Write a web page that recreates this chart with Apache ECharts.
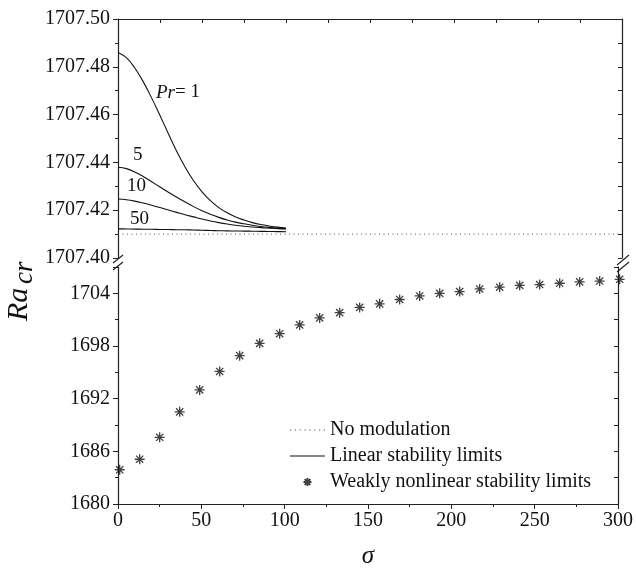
<!DOCTYPE html>
<html>
<head>
<meta charset="utf-8">
<script src="https://cdn.jsdelivr.net/npm/echarts@6/dist/echarts.min.js"></script>
<style>html,body{margin:0;padding:0;background:#fff}#c{width:636px;height:570px}</style>
</head>
<body>
<div id="c"></div>
<script>
// ---- data ----
var sigmaLin = [0,5,10,15,20,25,30,35,40,45,50,55,60,65,70,75,80,85,90,95,100];
var raPr1  = [1707.486,1707.4838,1707.4795,1707.4738,1707.467,1707.4596,1707.452,1707.4446,1707.438,1707.4323,1707.4277,1707.424,1707.4211,1707.4189,1707.4172,1707.4159,1707.4148,1707.414,1707.4134,1707.4129,1707.4125];
var raPr5  = [1707.438,1707.4374,1707.436,1707.4341,1707.4319,1707.4297,1707.4275,1707.4254,1707.4234,1707.4215,1707.4198,1707.4183,1707.417,1707.4159,1707.415,1707.4143,1707.4137,1707.4132,1707.4128,1707.4125,1707.4123];
var raPr10 = [1707.4247,1707.4244,1707.4238,1707.423,1707.4221,1707.4211,1707.4201,1707.4191,1707.4181,1707.4172,1707.4163,1707.4155,1707.4148,1707.4142,1707.4137,1707.4133,1707.413,1707.4127,1707.4125,1707.4123,1707.4122];
var raPr50 = [1707.4122,1707.41215,1707.4121,1707.41205,1707.412,1707.41195,1707.4119,1707.41185,1707.4118,1707.4117,1707.4116,1707.4115,1707.4114,1707.41135,1707.4113,1707.41125,1707.4112,1707.41115,1707.4111,1707.41105,1707.411];
var noModSigma = [0,300];
var noModRa = [1707.41,1707.41];
var sigmaNL = [1,13,25,37,49,61,73,85,97,109,121,133,145,157,169,181,193,205,217,229,241,253,265,277,289,301];
var raNL = [1683.9,1685.1,1687.6,1690.5,1693.0,1695.1,1696.9,1698.3,1699.4,1700.4,1701.2,1701.8,1702.4,1702.8,1703.3,1703.7,1704.0,1704.2,1704.5,1704.7,1704.9,1705.0,1705.15,1705.3,1705.4,1705.6];
var xTicks = [0,50,100,150,200,250,300];
var yTicksUpper = ['1707.40','1707.42','1707.44','1707.46','1707.48','1707.50'];
var yTicksLower = [1680,1686,1692,1698,1704];

function zip(a,b){return a.map(function(v,i){return [v,b[i]];});}

var FONT = 'Liberation Serif';
var AX = '#222';
var chart = echarts.init(document.getElementById('c'), null, {renderer:'canvas'});
var star = 'path://M0,-5L0,5M-5,0L5,0M-3.6,-3.6L3.6,3.6M-3.6,3.6L3.6,-3.6';
var dots = 'path://';
for (var k = 0; k < 8; k++) { var x0 = k*4.6; dots += 'M'+x0+',0L'+(x0+1.1)+',0L'+(x0+1.1)+',1.1L'+x0+',1.1Z'; }
var solid = 'path://M0,0L35,0L35,1.1L0,1.1Z';

var lineCommon = {type:'line', xAxisIndex:0, yAxisIndex:0, symbol:'none', smooth:0.4,
  lineStyle:{color:'#111', width:1.1}, itemStyle:{color:'#111'}, name:'Linear stability limits', silent:true};

var option = {
  animation:false,
  backgroundColor:'#fff',
  grid:[
    {left:118, top:19, width:504, height:239},
    {left:118, top:267, width:504, height:241}
  ],
  xAxis:[
    {gridIndex:0, type:'value', min:0, max:300, interval:50, position:'bottom',
     axisLine:{show:false}, axisTick:{show:false}, axisLabel:{show:false}, splitLine:{show:false}},
    {gridIndex:0, type:'value', min:0, max:300, interval:50, position:'top',
     axisLine:{show:true, onZero:false, lineStyle:{color:AX, width:1.2}},
     axisTick:{show:true, inside:true, length:4, lineStyle:{color:AX}},
     minorTick:{show:true, splitNumber:2, length:4, lineStyle:{color:AX}},
     axisLabel:{show:false}, splitLine:{show:false}},
    {gridIndex:1, type:'value', min:0, max:300, interval:50, position:'bottom',
     axisLine:{show:true, onZero:false, lineStyle:{color:AX, width:1.2}},
     axisTick:{show:true, inside:false, length:5, lineStyle:{color:AX}},
     minorTick:{show:true, splitNumber:2, length:3, lineStyle:{color:AX}},
     axisLabel:{show:true, margin:7, fontFamily:FONT, fontSize:20, color:'#111',
       formatter:function(v){return xTicks.indexOf(v)>=0 ? String(v) : '';}},
     splitLine:{show:false},
     name:'σ', nameLocation:'middle', nameGap:40,
     nameTextStyle:{fontFamily:FONT, fontStyle:'italic', fontSize:25, color:'#111'}}
  ],
  yAxis:[
    {gridIndex:0, type:'value', min:1707.40, max:1707.50, interval:0.02, position:'left',
     axisLine:{show:true, onZero:false, lineStyle:{color:AX, width:1.2}},
     axisTick:{show:true, inside:false, length:5, lineStyle:{color:AX}},
     minorTick:{show:true, splitNumber:2, length:3, lineStyle:{color:AX}},
     axisLabel:{show:true, margin:8, fontFamily:FONT, fontSize:20, color:'#111',
       formatter:function(v){var s=v.toFixed(2); return yTicksUpper.indexOf(s)>=0 ? s : '';}},
     splitLine:{show:false}},
    {gridIndex:0, type:'value', min:1707.40, max:1707.50, interval:0.02, position:'right',
     axisLine:{show:true, onZero:false, lineStyle:{color:AX, width:1.2}},
     axisTick:{show:true, inside:true, length:4, lineStyle:{color:AX}},
     minorTick:{show:true, splitNumber:2, length:4, lineStyle:{color:AX}},
     axisLabel:{show:false}, splitLine:{show:false}},
    {gridIndex:1, type:'value', min:1680, max:1707, interval:6, position:'left',
     axisLine:{show:true, onZero:false, lineStyle:{color:AX, width:1.2}},
     axisTick:{show:true, inside:false, length:5, lineStyle:{color:AX}},
     minorTick:{show:true, splitNumber:2, length:3, lineStyle:{color:AX}},
     axisLabel:{show:true, margin:8, fontFamily:FONT, fontSize:20, color:'#111', showMaxLabel:false,
       formatter:function(v){return yTicksLower.indexOf(v)>=0 ? String(v) : '';}},
     splitLine:{show:false}},
    {gridIndex:1, type:'value', min:1680, max:1707, interval:6, position:'right',
     axisLine:{show:true, onZero:false, lineStyle:{color:AX, width:1.2}},
     axisTick:{show:true, inside:true, length:4, lineStyle:{color:AX}},
     minorTick:{show:true, splitNumber:2, length:4, lineStyle:{color:AX}},
     axisLabel:{show:false}, splitLine:{show:false}}
  ],
  legend:{
    orient:'vertical', left:285, top:415, itemWidth:35, itemHeight:8, itemGap:6,
    textStyle:{fontFamily:FONT, fontSize:20, color:'#111'},
    selectedMode:false,
    data:[
      {name:'No modulation', icon:dots},
      {name:'Linear stability limits', icon:solid},
      {name:'Weakly nonlinear stability limits', icon:star}
    ]
  },
  series:[
    {type:'line', name:'No modulation', xAxisIndex:0, yAxisIndex:0, symbol:'none',
     data:zip(noModSigma,noModRa), lineStyle:{color:'#555', width:1, type:[1,3.5]}, itemStyle:{color:'#555'}, silent:true},
    Object.assign({}, lineCommon, {data:zip(sigmaLin,raPr1)}),
    Object.assign({}, lineCommon, {data:zip(sigmaLin,raPr5)}),
    Object.assign({}, lineCommon, {data:zip(sigmaLin,raPr10)}),
    Object.assign({}, lineCommon, {data:zip(sigmaLin,raPr50)}),
    {type:'scatter', name:'Weakly nonlinear stability limits', xAxisIndex:2, yAxisIndex:2,
     symbol:star, symbolSize:10, clip:false, silent:true,
     itemStyle:{color:'#111', borderColor:'#111', borderWidth:1.3},
     data:zip(sigmaNL,raNL)}
  ],
  graphic:[
    {type:'text', left:156, top:83, style:{text:'{i|Pr}= 1', font:'19px '+FONT, fill:'#111',
      rich:{i:{fontStyle:'italic', fontFamily:FONT, fontSize:19, fill:'#111'}}}},
    {type:'text', left:133, top:146, style:{text:'5', font:'19px '+FONT, fill:'#111'}},
    {type:'text', left:127, top:177, style:{text:'10', font:'19px '+FONT, fill:'#111'}},
    {type:'text', left:130, top:210, style:{text:'50', font:'19px '+FONT, fill:'#111'}},
    {type:'text', x:4, y:321, rotation:Math.PI/2,
     style:{text:'Ra', font:'italic 30px '+FONT, fill:'#111'}},
    {type:'text', x:11, y:284, rotation:Math.PI/2,
     style:{text:'cr', font:'italic 27px '+FONT, fill:'#111'}},
    // axis break marks
    {type:'line', shape:{x1:113, y1:263, x2:123, y2:255}, style:{stroke:'#222', lineWidth:1.2}},
    {type:'line', shape:{x1:113, y1:270, x2:123, y2:262}, style:{stroke:'#222', lineWidth:1.2}},
    {type:'line', shape:{x1:617, y1:265, x2:629, y2:255}, style:{stroke:'#222', lineWidth:1.2}},
    {type:'line', shape:{x1:617, y1:272, x2:629, y2:262}, style:{stroke:'#222', lineWidth:1.2}}
  ]
};
chart.setOption(option);
</script>
</body>
</html>
